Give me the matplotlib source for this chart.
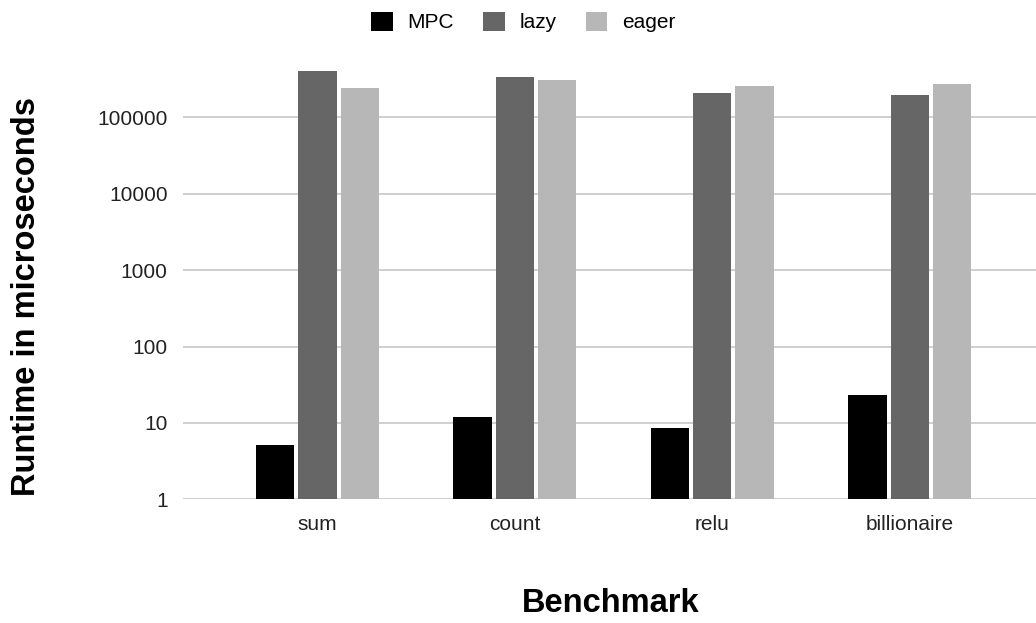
import matplotlib.pyplot as plt
import numpy as np

plt.rcParams['font.family'] = ['Liberation Sans', 'DejaVu Sans']

benchmarks = ['sum', 'count', 'relu', 'billionaire']
series = ['MPC', 'lazy', 'eager']
mpc = [5.1, 12.0, 8.6, 23.5]
lazy = [406000, 342000, 207000, 195000]
eager = [243000, 307000, 258000, 274000]
colors = ['#000000', '#666666', '#b7b7b7']
yticks = [1, 10, 100, 1000, 10000, 100000]

fig = plt.figure(figsize=(10.36, 6.23), dpi=100)
ax = fig.add_axes([183 / 1036, 1 - 499.3 / 623, 1 - 183 / 1036, (499.3 - 60) / 623])

x = np.arange(len(benchmarks))
step = 0.214
width = 0.194
for i, (name, vals) in enumerate(zip(series, [mpc, lazy, eager])):
    ax.bar(x + (i - 1) * step, vals, width, color=colors[i], label=name,
           zorder=3)

ax.set_yscale('log')
ax.set_ylim(1, 10 ** 5.75)
ax.set_xlim(-0.681, 3 + (1036 - 909.8) / 197.4)
ax.set_yticks(yticks)
ax.set_yticklabels([str(v) for v in yticks])
ax.yaxis.set_minor_locator(plt.NullLocator())
ax.set_xticks(x)
ax.set_xticklabels(benchmarks)
ax.tick_params(axis='both', length=0, labelsize=15, colors='#222222')
ax.tick_params(axis='y', pad=11)
ax.tick_params(axis='x', pad=11)
ax.grid(axis='y', color='#cccccc', linewidth=1.3, zorder=0)
for s in ax.spines.values():
    s.set_visible(False)

fig.text(27 / 1036, 1 - 296 / 623, 'Runtime in microseconds', rotation=90,
         ha='center', va='center', fontsize=23.5, fontweight='bold')
fig.text(611 / 1036, 1 - 604 / 623, 'Benchmark', ha='center', va='center',
         fontsize=23.5, fontweight='bold')

fig.legend(loc='center', bbox_to_anchor=(523 / 1036, 1 - 22 / 623), ncol=3,
           frameon=False, fontsize=15, handlelength=1.05, handleheight=1.05,
           handletextpad=0.7, columnspacing=1.4)

fig.savefig('out.png', dpi=100)
